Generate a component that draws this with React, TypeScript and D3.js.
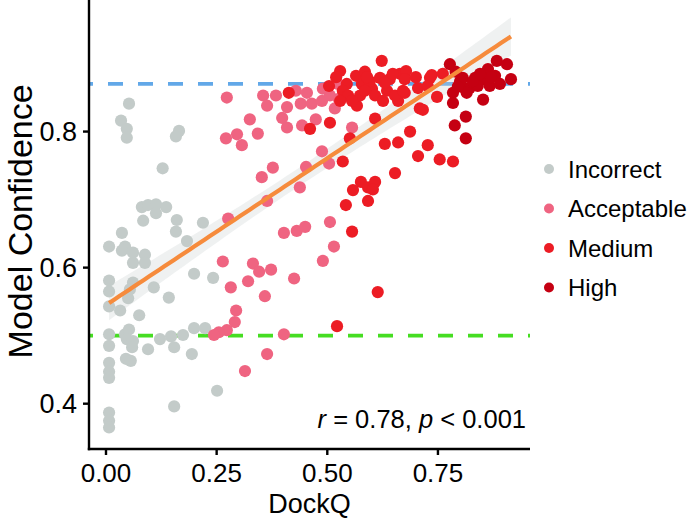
import React from "react";
import * as d3 from "d3";

// ---- data (DockQ, model confidence) ----
const incorrect: [number, number][] = [
  [0.052, 0.841], [0.034, 0.816], [0.047, 0.804], [0.047, 0.791], [0.165, 0.801], [0.158, 0.793], [0.128, 0.746],
  [0.081, 0.689], [0.095, 0.692], [0.113, 0.693], [0.136, 0.689], [0.113, 0.680], [0.084, 0.669], [0.160, 0.670],
  [0.158, 0.653], [0.219, 0.666], [0.036, 0.651], [0.007, 0.631], [0.043, 0.631], [0.036, 0.625], [0.061, 0.622],
  [0.088, 0.619], [0.061, 0.607], [0.088, 0.607], [0.183, 0.639], [0.007, 0.581], [0.007, 0.565], [0.061, 0.578],
  [0.054, 0.568], [0.050, 0.555], [0.108, 0.571], [0.142, 0.556], [0.199, 0.591], [0.242, 0.585], [0.007, 0.543],
  [0.032, 0.537], [0.075, 0.530], [0.007, 0.502], [0.043, 0.502], [0.052, 0.509], [0.047, 0.495], [0.061, 0.492],
  [0.059, 0.483], [0.007, 0.485], [0.095, 0.480], [0.122, 0.495], [0.147, 0.499], [0.154, 0.483], [0.174, 0.501],
  [0.199, 0.511], [0.224, 0.511], [0.194, 0.473], [0.045, 0.466], [0.056, 0.463], [0.007, 0.460], [0.007, 0.447],
  [0.007, 0.438], [0.251, 0.419], [0.154, 0.396], [0.007, 0.387], [0.007, 0.375], [0.007, 0.365],
];

const acceptable: [number, number][] = [
  [0.273, 0.850], [0.355, 0.853], [0.384, 0.853], [0.364, 0.838], [0.409, 0.836], [0.429, 0.860], [0.440, 0.841],
  [0.325, 0.818], [0.398, 0.820], [0.409, 0.806], [0.443, 0.809], [0.271, 0.790], [0.296, 0.796], [0.307, 0.780],
  [0.343, 0.797], [0.377, 0.747], [0.352, 0.733], [0.452, 0.748], [0.438, 0.718], [0.364, 0.698], [0.276, 0.672],
  [0.402, 0.651], [0.431, 0.654], [0.450, 0.660], [0.264, 0.609], [0.332, 0.606], [0.346, 0.594], [0.373, 0.597],
  [0.321, 0.580], [0.282, 0.571], [0.425, 0.584], [0.359, 0.558], [0.294, 0.537], [0.291, 0.520], [0.273, 0.508],
  [0.255, 0.505], [0.244, 0.501], [0.402, 0.502], [0.364, 0.473], [0.314, 0.448], [0.506, 0.667], [0.515, 0.631],
  [0.490, 0.610], [0.488, 0.771], [0.504, 0.753], [0.556, 0.806], [0.474, 0.818], [0.454, 0.857], [0.465, 0.841],
  [0.490, 0.863], [0.488, 0.845], [0.506, 0.853], [0.524, 0.870], [0.517, 0.834], [0.526, 0.848],
];

const medium: [number, number][] = [
  [0.413, 0.857], [0.623, 0.904], [0.529, 0.889], [0.520, 0.880], [0.565, 0.882], [0.585, 0.888], [0.544, 0.870],
  [0.504, 0.867], [0.535, 0.860], [0.547, 0.853], [0.578, 0.870], [0.601, 0.863], [0.619, 0.879], [0.641, 0.877],
  [0.664, 0.885], [0.678, 0.889], [0.608, 0.853], [0.635, 0.860], [0.660, 0.845], [0.675, 0.857], [0.567, 0.838],
  [0.608, 0.819], [0.506, 0.813], [0.461, 0.804], [0.551, 0.790], [0.596, 0.874], [0.630, 0.872], [0.574, 0.853],
  [0.556, 0.845], [0.585, 0.860], [0.653, 0.853], [0.626, 0.845], [0.529, 0.845], [0.705, 0.864], [0.732, 0.879],
  [0.748, 0.851], [0.727, 0.867], [0.736, 0.883], [0.761, 0.885], [0.671, 0.860], [0.675, 0.877], [0.709, 0.834],
  [0.716, 0.832], [0.687, 0.800], [0.727, 0.780], [0.630, 0.782], [0.660, 0.784], [0.705, 0.764], [0.754, 0.759],
  [0.784, 0.756], [0.535, 0.756], [0.653, 0.739], [0.576, 0.726], [0.592, 0.718], [0.608, 0.726], [0.603, 0.715],
  [0.558, 0.714], [0.542, 0.692], [0.592, 0.698], [0.556, 0.653], [0.614, 0.564], [0.522, 0.514],
  [0.590, 0.880], [0.648, 0.885], [0.700, 0.880],
];

const high: [number, number][] = [
  [0.777, 0.899], [0.790, 0.888], [0.806, 0.879], [0.784, 0.857], [0.784, 0.842], [0.811, 0.863], [0.822, 0.864],
  [0.834, 0.879], [0.852, 0.877], [0.863, 0.892], [0.879, 0.882], [0.883, 0.904], [0.906, 0.899], [0.915, 0.877],
  [0.852, 0.847], [0.815, 0.857], [0.813, 0.822], [0.788, 0.809], [0.813, 0.790], [0.867, 0.867], [0.840, 0.867],
  [0.800, 0.874], [0.829, 0.874], [0.870, 0.880], [0.845, 0.885], [0.890, 0.870], [0.795, 0.866],
];

const categories = ["Incorrect", "Acceptable", "Medium", "High"];
const colors = ["#C3CBC9", "#EF6481", "#EC1C24", "#C50012"];
const seriesData = [incorrect, acceptable, medium, high];

const xTicks = [0, 0.25, 0.5, 0.75];
const yTicks = [0.4, 0.6, 0.8];
const refLines = [0.87, 0.5];
const refColors = ["#62A8E8", "#46DD22"];
const statLabel = { r: "0.78", p: "0.001" };
// reported linear fit (intercept, slope)
const fitCoef = [0.545, 0.4316];

const W = 687;
const H = 520;
const FONT = "'Liberation Sans', Arial, Helvetica, sans-serif";

export default function App() {
  const x = d3.scaleLinear().domain([-0.0384, 0.958]).range([89, 530]);
  const y = d3.scaleLinear().domain([0.3334, 0.9934]).range([449, 0]);

  const all = seriesData.flat();
  const n = all.length;
  const mx = d3.mean(all, (d) => d[0])!;
  const sxx = d3.sum(all, (d) => (d[0] - mx) ** 2);
  const [icpt, slope] = fitCoef;
  const rss = d3.sum(all, (d) => (d[1] - icpt - slope * d[0]) ** 2);
  const s = Math.sqrt(rss / (n - 2));
  const [xmin, xmax] = d3.extent(all, (d) => d[0]) as [number, number];
  const grid = d3.range(0, 81).map((i) => xmin + ((xmax - xmin) * i) / 80);
  const band = grid.map((gx) => {
    const fit = icpt + slope * gx;
    const se = s * Math.sqrt(1 / n + (gx - mx) ** 2 / sxx) * 1.97;
    return { gx, fit, lo: fit - se, hi: fit + se };
  });
  const area = d3
    .area<any>()
    .x((d) => x(d.gx))
    .y0((d) => y(d.lo))
    .y1((d) => y(d.hi));
  const line = d3
    .line<any>()
    .x((d) => x(d.gx))
    .y((d) => y(d.fit));

  const r = 6.1;

  return (
    <svg
      width={W}
      height={H}
      style={{ position: "absolute", left: 0, top: 0, background: "#fff" }}
      fontFamily={FONT}
    >
      {refLines.map((v, i) => (
        <line
          key={"ref" + i}
          x1={x.range()[0]}
          x2={x.range()[1]}
          y1={y(v)}
          y2={y(v)}
          stroke={refColors[i]}
          strokeWidth={3.8}
          strokeDasharray="15 15"
          strokeDashoffset={11}
        />
      ))}
      <path d={area(band) || ""} fill="#c9cfcf" opacity={0.3} />
      {seriesData.map((ser, si) =>
        ser.map((d, i) => (
          <circle key={si + "-" + i} cx={x(d[0])} cy={y(d[1])} r={r} fill={colors[si]} />
        ))
      )}
      <path d={line(band) || ""} fill="none" stroke="#F68B3C" strokeWidth={4.2} />

      {/* axes */}
      <line x1={89} x2={89} y1={0} y2={450.2} stroke="#000" strokeWidth={2.4} />
      <line x1={87.8} x2={530} y1={449} y2={449} stroke="#000" strokeWidth={2.4} />
      {yTicks.map((t) => (
        <g key={"yt" + t}>
          <line x1={83} x2={89} y1={y(t)} y2={y(t)} stroke="#000" strokeWidth={2.4} />
          <text x={77} y={y(t) + 9.5} textAnchor="end" fontSize={27} fill="#000">
            {t.toFixed(1)}
          </text>
        </g>
      ))}
      {xTicks.map((t) => (
        <g key={"xt" + t}>
          <line x1={x(t)} x2={x(t)} y1={449} y2={455} stroke="#000" strokeWidth={2.4} />
          <text x={x(t)} y={482} textAnchor="middle" fontSize={26} fill="#000">
            {t.toFixed(2)}
          </text>
        </g>
      ))}
      <text x={309.5} y={513} textAnchor="middle" fontSize={27} fill="#000">
        DockQ
      </text>
      <text
        transform={`translate(32,${y(0.668)}) rotate(-90)`}
        textAnchor="middle"
        fontSize={34}
        fill="#000"
      >
        Model Confidence
      </text>

      <text x={526} y={428} textAnchor="end" fontSize={25.5} fill="#000">
        <tspan fontStyle="italic">r</tspan>
        {" = " + statLabel.r + ", "}
        <tspan fontStyle="italic">p</tspan>
        {" < " + statLabel.p}
      </text>

      {categories.map((c, i) => (
        <g key={c} transform={`translate(0,${169 + i * 39.5})`}>
          <circle cx={549} cy={0} r={5} fill={colors[i]} />
          <text x={568} y={8.5} fontSize={24} fill="#000">
            {c}
          </text>
        </g>
      ))}
    </svg>
  );
}
